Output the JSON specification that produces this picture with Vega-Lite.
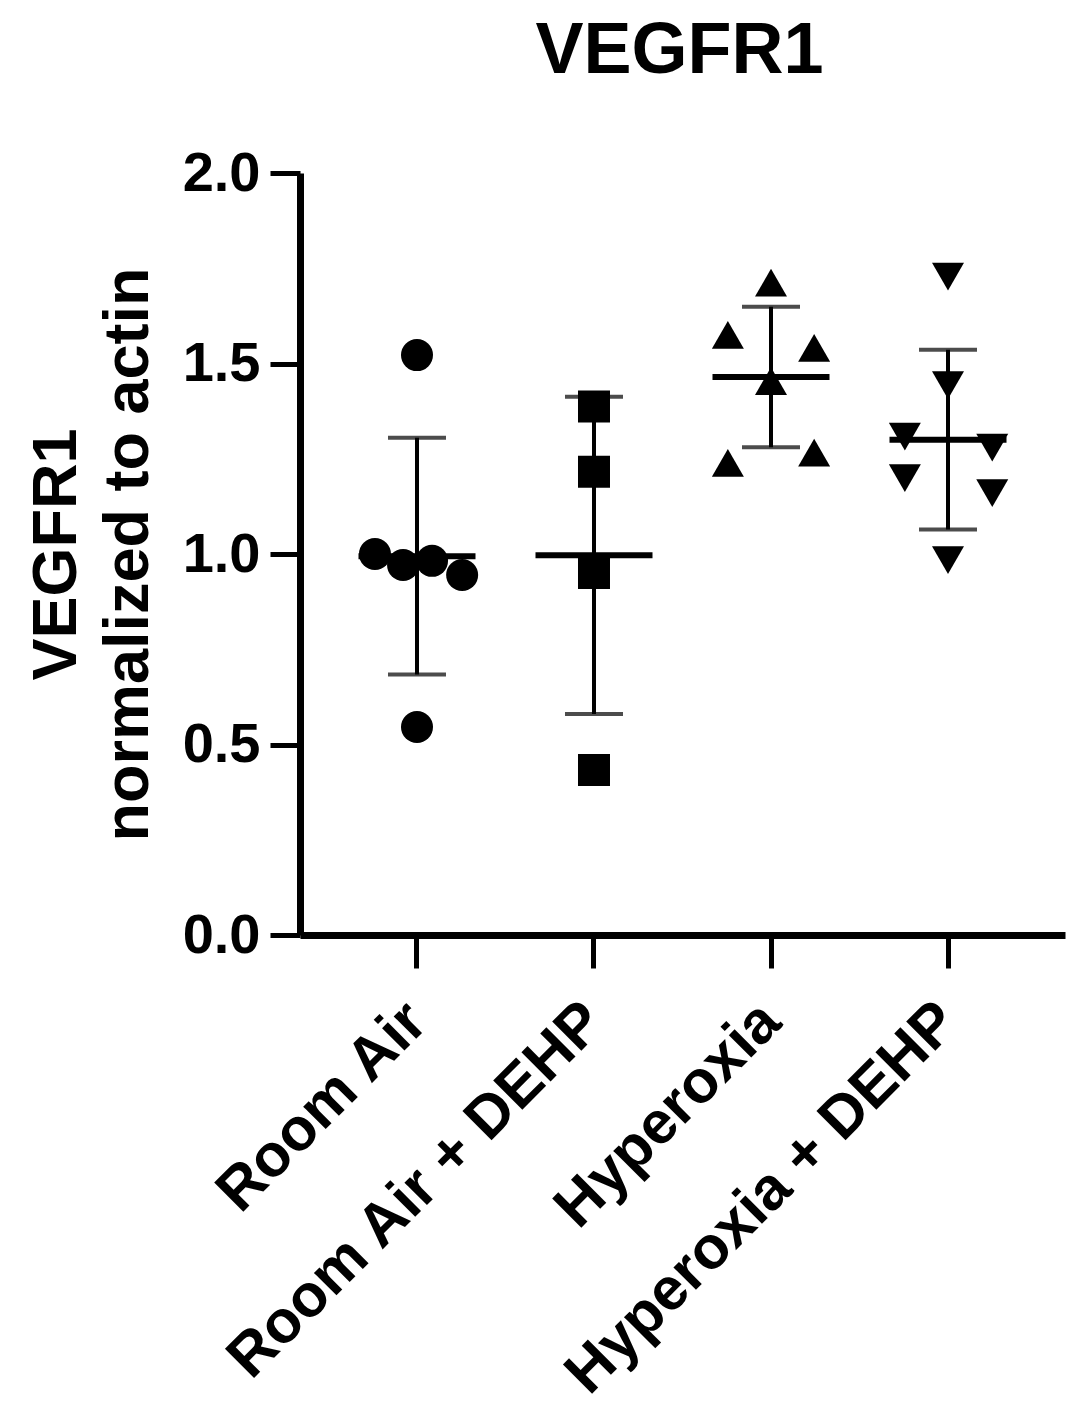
{
  "$schema": "https://vega.github.io/schema/vega-lite/v6.json",
  "autosize": {"type": "none"},
  "padding": {"left": 300, "top": 173, "right": 18, "bottom": 471},
  "width": 765,
  "height": 762,
  "background": "white",
  "title": {
    "text": "VEGFR1",
    "font": "Liberation Sans",
    "fontSize": 72,
    "fontWeight": "bold",
    "color": "black",
    "anchor": "middle",
    "frame": "group",
    "offset": 57,
    "dx": -3
  },
  "data": {
    "values": [
      {"group": "Room Air", "value": 1.522, "jitter": 0},
      {"group": "Room Air", "value": 1.0, "jitter": -1.9},
      {"group": "Room Air", "value": 0.971, "jitter": -0.63},
      {"group": "Room Air", "value": 0.982, "jitter": 0.68},
      {"group": "Room Air", "value": 0.945, "jitter": 2.04},
      {"group": "Room Air", "value": 0.546, "jitter": 0},
      {"group": "Room Air + DEHP", "value": 1.387, "jitter": 0},
      {"group": "Room Air + DEHP", "value": 1.216, "jitter": 0},
      {"group": "Room Air + DEHP", "value": 0.95, "jitter": 0},
      {"group": "Room Air + DEHP", "value": 0.433, "jitter": 0},
      {"group": "Hyperoxia", "value": 1.712, "jitter": 0},
      {"group": "Hyperoxia", "value": 1.575, "jitter": -1.95},
      {"group": "Hyperoxia", "value": 1.541, "jitter": 1.95},
      {"group": "Hyperoxia", "value": 1.454, "jitter": 0},
      {"group": "Hyperoxia", "value": 1.239, "jitter": -1.95},
      {"group": "Hyperoxia", "value": 1.266, "jitter": 1.95},
      {"group": "Hyperoxia + DEHP", "value": 1.728, "jitter": 0},
      {"group": "Hyperoxia + DEHP", "value": 1.443, "jitter": 0},
      {"group": "Hyperoxia + DEHP", "value": 1.308, "jitter": -1.95},
      {"group": "Hyperoxia + DEHP", "value": 1.279, "jitter": 2.0},
      {"group": "Hyperoxia + DEHP", "value": 1.199, "jitter": -1.95},
      {"group": "Hyperoxia + DEHP", "value": 1.16, "jitter": 2.0},
      {"group": "Hyperoxia + DEHP", "value": 0.984, "jitter": 0}
    ]
  },
  "encoding": {
    "x": {
      "field": "group",
      "type": "nominal",
      "sort": ["Room Air", "Room Air + DEHP", "Hyperoxia", "Hyperoxia + DEHP"],
      "scale": {"type": "band", "paddingInner": 0, "paddingOuter": 0.161},
      "axis": {
        "title": null,
        "labelAngle": -45,
        "labelAlign": "right",
        "labelBaseline": "middle",
        "labelFont": "Liberation Sans",
        "labelFontSize": 60,
        "labelFontWeight": "bold",
        "labelColor": "black",
        "labelPadding": 44,
        "labelOffset": 0,
        "labelLimit": 1000,
        "tickSize": 33,
        "tickWidth": 5,
        "tickColor": "black",
        "domainWidth": 7,
        "domainColor": "black"
      }
    },
    "y": {
      "field": "value",
      "type": "quantitative",
      "scale": {"domain": [0, 2], "nice": false, "zero": true},
      "axis": {
        "title": ["VEGFR1", "normalized to actin"],
        "titleFont": "Liberation Sans",
        "titleFontSize": 63,
        "titleFontWeight": "bold",
        "titleColor": "black",
        "titleLineHeight": 72,
        "titleAngle": -90,
        "titleAlign": "center",
        "titleBaseline": "alphabetic",
        "titleX": -225,
        "titleY": 381,
        "values": [0, 0.5, 1, 1.5, 2],
        "format": ".1f",
        "grid": false,
        "labelFont": "Liberation Sans",
        "labelFontSize": 56,
        "labelFontWeight": "bold",
        "labelColor": "black",
        "labelPadding": 10,
        "tickSize": 30,
        "tickWidth": 5,
        "tickColor": "black",
        "domainWidth": 7,
        "domainColor": "black"
      }
    }
  },
  "layer": [
    {
      "mark": {"type": "errorbar", "extent": "stdev", "color": "black", "thickness": 4, "ticks": {"size": 58, "color": "black"}}
    },
    {
      "mark": {"type": "tick", "color": "black", "size": 117, "thickness": 6, "opacity": 1},
      "encoding": {"y": {"aggregate": "mean", "field": "value", "type": "quantitative"}}
    },
    {
      "mark": {"type": "point", "filled": true, "size": 1024, "color": "black", "opacity": 1},
      "encoding": {
        "xOffset": {"field": "jitter", "type": "quantitative", "scale": {"domain": [-4, 4]}},
        "shape": {
          "field": "group",
          "type": "nominal",
          "scale": {
            "domain": ["Room Air", "Room Air + DEHP", "Hyperoxia", "Hyperoxia + DEHP"],
            "range": ["circle", "square", "triangle-up", "triangle-down"]
          },
          "legend": null
        }
      }
    }
  ],
  "config": {"view": {"stroke": null}}
}
